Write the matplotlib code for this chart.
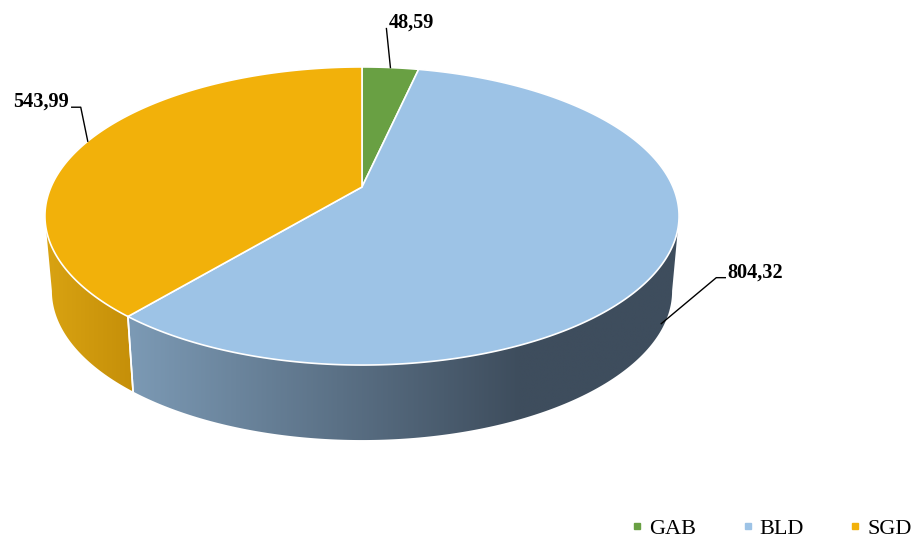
import numpy as np
import matplotlib
matplotlib.use("Agg")
import matplotlib.pyplot as plt
from matplotlib.lines import Line2D
from matplotlib.colors import LinearSegmentedColormap

categories = ["GAB", "BLD", "SGD"]
values = [48.59, 804.32, 543.99]
value_labels = ["48,59", "804,32", "543,99"]
top_colors = ["#69a043", "#9dc3e6", "#f2b10a"]
side_colors = [("#5a8a38", "#4e7a30"), ("#7c9ab5", "#3e4d5d"), ("#d9a312", "#c58f09")]

# projection of the tilted disc (screen pixels, y downwards)
CX, CY = 362, 187
A, B, K = 311, 143.4, 0.1946
DEPTH, SHRINK = 75, 0.978


def rim(theta, bottom=False):
    t = np.radians(theta)
    s = 1.0 / (1.0 + K * np.sin(t))
    a = A * SHRINK if bottom else A
    x = CX + a * np.cos(t) * s
    y = CY - B * np.sin(t) * s + (DEPTH if bottom else 0)
    return x, y


fig = plt.figure(figsize=(9.13, 5.4), dpi=100)
ax = fig.add_axes([0, 0, 1, 1])
ax.set_xlim(0, 913)
ax.set_ylim(540, 0)
ax.axis("off")

# slice angles, clockwise from 12 o'clock
vals = np.array(values)
sweep = vals / vals.sum() * 360
ends = 90 - np.cumsum(sweep)
starts = ends + sweep

# visible wall part
vis_lo = 180 + np.degrees(np.arcsin(K))
vis_hi = 360 - np.degrees(np.arcsin(K))

for i in range(len(values)):
    lo, hi = ends[i] % 360, starts[i] % 360
    if hi <= lo:
        hi += 360
    a0, a1 = max(lo, vis_lo), min(hi, vis_hi)
    if a1 <= a0:
        continue
    th = np.linspace(a0, a1, 300)
    xt, yt = rim(th)
    xb, yb = rim(th, bottom=True)
    pts = list(zip(xt, yt)) + list(zip(xb[::-1], yb[::-1]))
    wall = plt.Polygon(pts, closed=True, facecolor="none", edgecolor="none")
    ax.add_patch(wall)
    x_lo = min(xt.min(), xb.min())
    x_hi = max(xt.max(), xb.max())
    x_end = min(x_hi, 520)
    grad = np.clip((np.linspace(x_lo, x_hi, 400) - x_lo) / max(x_end - x_lo, 1), 0, 1)
    cmap = LinearSegmentedColormap.from_list("w%d" % i, side_colors[i])
    im = ax.imshow(grad[None, :], cmap=cmap, vmin=0, vmax=1, aspect="auto",
                   extent=(x_lo, x_hi, max(yt.max(), yb.max()) + 1, min(yt.min(), yb.min()) - 1),
                   interpolation="bilinear")
    im.set_clip_path(wall)
    # white seam at slice junction
    for a in (a0, a1):
        if vis_lo + 0.5 < a < vis_hi - 0.5:
            p, q = rim(a), rim(a, bottom=True)
            ax.plot([p[0], q[0]], [p[1], q[1]], color="white", lw=1.2)

# top faces
for i in range(len(values)):
    th = np.linspace(starts[i], ends[i], 300)
    x, y = rim(th)
    pts = [(CX, CY)] + list(zip(x, y))
    ax.add_patch(plt.Polygon(pts, closed=True, facecolor=top_colors[i],
                             edgecolor="white", lw=1.2, joinstyle="round"))

ax.set_xlim(0, 913)
ax.set_ylim(540, 0)

# data labels with leader lines
lab_font = dict(family="Liberation Serif", weight="bold", size=14.6)
mids = (starts + ends) / 2
# GAB
x0, y0 = rim(mids[0])
ax.plot([x0, x0 - 4], [y0, y0 - 39], color="black", lw=1)
ax.text(x0 - 2, y0 - 45, value_labels[0], ha="left", va="center", **lab_font)
# BLD
xt0, yt0 = rim(mids[1])
xb0, yb0 = rim(mids[1], bottom=True)
x0, y0 = xt0 + 0.9 * (xb0 - xt0), yt0 + 0.9 * (yb0 - yt0)
ax.plot([x0, x0 + 55, x0 + 64], [y0, y0 - 46, y0 - 46], color="black", lw=1)
ax.text(x0 + 66, y0 - 51, value_labels[1], ha="left", va="center", **lab_font)
# SGD
x0, y0 = rim(mids[2])
ax.plot([x0, x0 - 7, x0 - 16], [y0, y0 - 34, y0 - 34], color="black", lw=1)
ax.text(x0 - 19, y0 - 40, value_labels[2], ha="right", va="center", **lab_font)

handles = [Line2D([], [], marker="s", linestyle="", markersize=5,
                  markerfacecolor=c, markeredgecolor=c) for c in top_colors]
fig.legend(handles, categories, loc="lower right", bbox_to_anchor=(1.0, 0.0),
           ncol=3, frameon=False, prop=dict(family="Liberation Serif", size=16),
           handlelength=0.6, handletextpad=0.25, columnspacing=2.0,
           borderpad=0.0, borderaxespad=0.05)

plt.savefig("out.png", dpi=100)
plt.close()
